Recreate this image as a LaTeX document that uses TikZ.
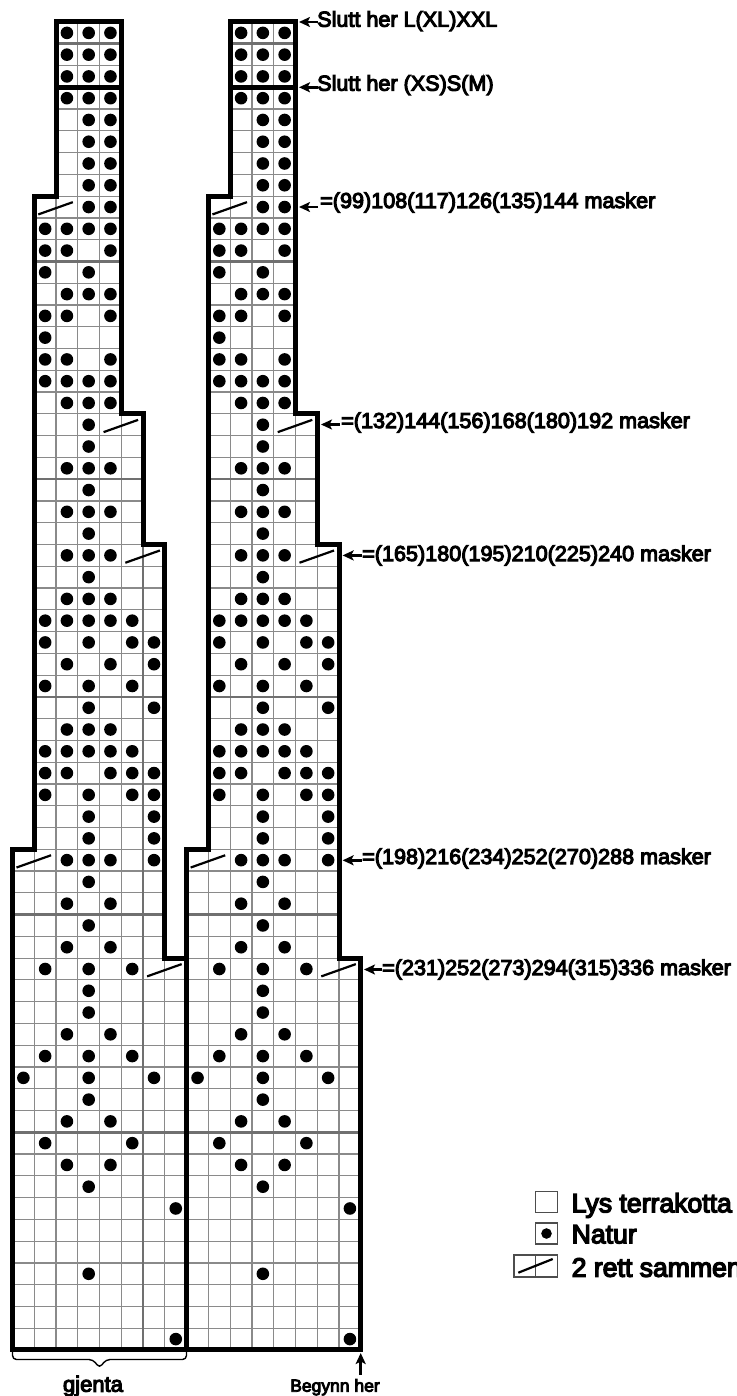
\documentclass[tikz,border=0pt]{standalone}
\usepackage{fontspec}
\setmainfont{Liberation Sans}
\newfontfamily\lblfam[FakeBold=5]{Liberation Sans}
\usetikzlibrary{arrows.meta}
\definecolor{gridgray}{HTML}{8A8A8A}
\definecolor{thickgray}{HTML}{707070}
\definecolor{boxgray}{HTML}{4D4D4D}
\newcommand\lblA{\lblfam\fontsize{21.6}{24}\selectfont}
\newcommand\lblL{\lblfam\fontsize{26.6}{30}\selectfont}
\newcommand\lblG{\lblfam\fontsize{22}{26}\selectfont}
\newcommand\lblB{\lblfam\fontsize{17.5}{20}\selectfont}
\begin{document}
\begin{tikzpicture}[x=1pt,y=-1pt,
  cellbox/.style={draw=gridgray,line width=1.2pt},
  tengrid/.style={draw=thickgray,line width=2.6pt},
  outl/.style={draw=black,line width=5pt,line join=miter},
  slashst/.style={draw=black,line width=2.2pt},
  arr/.style={draw=black,line width=2.6pt,-{Stealth[length=11pt,width=10pt,inset=2.5pt]}},
  lab/.style={inner sep=0pt,anchor=base west,font=\lblA},
  legtxt/.style={inner sep=0pt,anchor=base west,font=\lblL},
  boxst/.style={draw=boxgray,line width=1.5pt},
  bracest/.style={draw=black,line width=1.4pt,rounded corners=4pt}]
\useasboundingbox (0,0) rectangle (736,1396);
\def\S{21.77}
\def\XO{12.5}
\def\YO{22}
% cells
\foreach \o in {0,8}{
  \foreach \rs/\re/\a/\b in {1/8/3/5,9/18/2/5,19/24/2/6,25/38/2/7,39/43/1/7,44/61/1/8}{
    \foreach \r in {\rs,...,\re}{
      \foreach \c in {\a,...,\b}{
        \draw[cellbox] ({\XO+(\o+\c-1)*\S},{\YO+(\r-1)*\S}) rectangle ++(\S,\S);
      }
    }
  }
  % ten-row lines
  \foreach \e/\a/\b in {1/3/5,11/2/5,21/2/6,31/2/7,41/1/7,51/1/8}{
    \draw[tengrid] ({\XO+(\o+\a-1)*\S},{\YO+\e*\S}) -- ({\XO+(\o+\b)*\S},{\YO+\e*\S});
  }
}
\draw[tengrid] ({\XO+6*\S},{\YO+24*\S}) -- ({\XO+6*\S},{\YO+61*\S});
% dots
\foreach \o in {0,8}{
  \foreach \r/\cs in {1/{3,4,5},2/{3,4,5},3/{3,4,5},4/{3,4,5},5/{4,5},6/{4,5},7/{4,5},8/{4,5},
    9/{4,5},10/{2,3,4,5},11/{2,3,5},12/{2,4},13/{3,4,5},14/{2,3,5},15/{2},16/{2,3,5},17/{2,3,4,5},
    18/{3,4,5},19/{4},20/{4},21/{3,4,5},22/{4},23/{3,4,5},24/{4},25/{3,4,5},26/{4},27/{3,4,5},
    28/{2,3,4,5,6},29/{2,4,6,7},30/{3,5,7},31/{2,4,6},32/{4,7},33/{3,4,5},34/{2,3,4,5,6},
    35/{2,3,5,6,7},36/{2,4,6,7},37/{4,7},38/{4,7},39/{3,4,5,7},40/{4},41/{3,5},42/{4},43/{3,5},
    44/{2,4,6},45/{4},46/{4},47/{3,5},48/{2,4,6},49/{1,4,7},50/{4},51/{3,5},52/{2,6},53/{3,5},
    54/{4},55/{8},58/{4},61/{8}}{
    \foreach \c in \cs {
      \fill ({\XO+(\o+\c-0.5)*\S},{\YO+(\r-0.5)*\S}) circle[radius=6.3pt];
    }
  }
  \foreach \r/\c in {9/2,19/5,25/6,39/1,44/7}{
    \draw[slashst] ({\XO+(\o+\c-1)*\S+4},{\YO+\r*\S-3.5}) -- ({\XO+(\o+\c+1)*\S-5},{\YO+(\r-1)*\S+6});
  }
  % outline
  \draw[outl] ({\XO+(\o+2)*\S},{\YO}) -- ({\XO+(\o+5)*\S},{\YO}) -- ({\XO+(\o+5)*\S},{\YO+18*\S})
    -- ({\XO+(\o+6)*\S},{\YO+18*\S}) -- ({\XO+(\o+6)*\S},{\YO+24*\S}) -- ({\XO+(\o+7)*\S},{\YO+24*\S})
    -- ({\XO+(\o+7)*\S},{\YO+43*\S}) -- ({\XO+(\o+8)*\S},{\YO+43*\S}) -- ({\XO+(\o+8)*\S},{\YO+61*\S})
    -- ({\XO+\o*\S},{\YO+61*\S}) -- ({\XO+\o*\S},{\YO+38*\S}) -- ({\XO+(\o+1)*\S},{\YO+38*\S})
    -- ({\XO+(\o+1)*\S},{\YO+8*\S}) -- ({\XO+(\o+2)*\S},{\YO+8*\S}) -- cycle;
  \draw[outl] ({\XO+(\o+2)*\S},{\YO+3*\S}) -- ({\XO+(\o+5)*\S},{\YO+3*\S});
}
% labels and arrows
\coordinate (h1) at (299,22);    \coordinate (t1) at (318,22);
\coordinate (h2) at (299,87.3);  \coordinate (t2) at (318,87.3);
\coordinate (h3) at (299,207);   \coordinate (t3) at (318,207);
\coordinate (h4) at (321,424.5); \coordinate (t4) at (340,424.5);
\coordinate (h5) at (342.6,555.4); \coordinate (t5) at (361.6,555.4);
\coordinate (h6) at (342.6,860.3); \coordinate (t6) at (361.6,860.3);
\coordinate (h7) at (364,969.5); \coordinate (t7) at (382,969.5);
\foreach \i in {1,...,7}{\draw[arr] (t\i) -- (h\i);}
\node[lab] (lab1) at (317,26.7) {Slutt her L(XL)XXL};
\node[lab] (lab2) at (317,90.7) {Slutt her (XS)S(M)};
\node[lab] (lab3) at (320,208) {=(99)108(117)126(135)144 masker};
\node[lab] (lab4) at (341,428) {=(132)144(156)168(180)192 masker};
\node[lab] (lab5) at (362,561) {=(165)180(195)210(225)240 masker};
\node[lab] (lab6) at (362,864) {=(198)216(234)252(270)288 masker};
\node[lab] (lab7) at (382,975) {=(231)252(273)294(315)336 masker};
% start arrow
\coordinate (bt) at (360.7,1375);
\coordinate (bh) at (360.7,1353);
\draw[arr] (bt) -- (bh);
\node[inner sep=0pt,anchor=base,font=\lblB] (beg) at (335,1391.7) {Begynn her};
% brace
\draw[bracest] (12.5,1350) -- (12.5,1359.5) -- (93,1359.5) -- (99.5,1368) -- (106,1359.5) -- (186.5,1359.5) -- (186.5,1350);
\node[inner sep=0pt,anchor=base,font=\lblG] (gj) at (93,1391.7) {gjenta};
% legend
\draw[boxst] (535.7,1191.7) rectangle (557.3,1212.7);
\draw[boxst] (535.7,1223) rectangle (557.3,1244);
\fill (546.5,1233.5) circle[radius=5.3pt];
\draw[boxst] (514,1255) rectangle (557.3,1277);
\draw[boxst] (535.7,1255) -- (535.7,1277);
\draw[slashst] (518.3,1272.7) -- (552.7,1259);
\node[legtxt] (leg1) at (571.5,1212.3) {Lys terrakotta};
\node[legtxt] (leg2) at (571.5,1243.3) {Natur};
\node[legtxt] (leg3) at (571.5,1276.7) {2 rett sammen};
\end{tikzpicture}
\end{document}
